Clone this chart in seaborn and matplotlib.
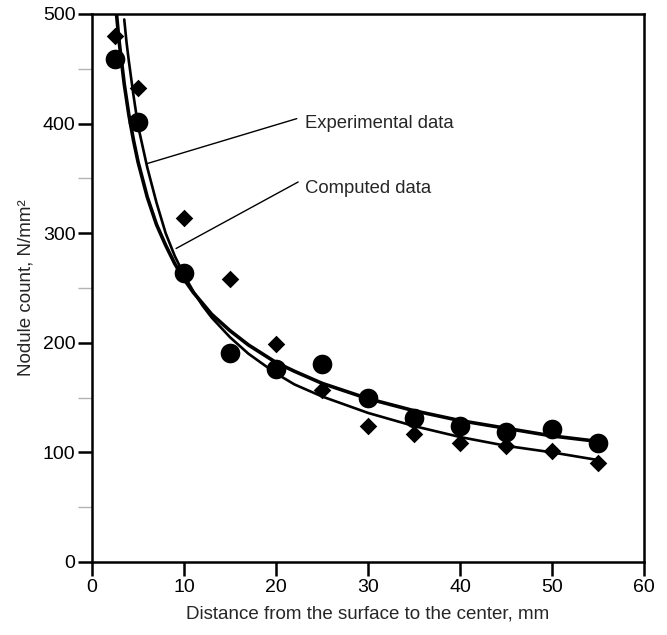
import numpy as np
import pandas as pd
import matplotlib
matplotlib.use("Agg")
import matplotlib.pyplot as plt
from matplotlib.ticker import MultipleLocator
import seaborn as sns

dist = [2.5, 5, 10, 15, 20, 25, 30, 35, 40, 45, 50, 55]
count_circle = [459, 401, 264, 191, 176, 181, 150, 131, 124, 119, 121, 109]
count_diamond = [480, 432, 314, 258, 199, 157, 124, 117, 109, 106, 101, 90]

# fitted curves
curve_circle_x = [2.66, 2.85, 3, 3.5, 4, 4.5, 5, 6, 7, 8, 9, 10, 11, 12, 13, 15, 17, 20, 22,
                  25, 30, 35, 40, 45, 50, 55]
curve_circle_y = [500, 483, 471, 436, 408, 385, 365, 333, 308, 289, 272, 258, 246, 236, 226,
                  211, 198, 182, 174, 163, 149, 138, 129, 122, 115, 110]
curve_diamond_x = [3.5, 3.75, 4, 4.5, 5, 6, 7, 8, 9, 10, 11, 12, 13, 15, 17, 20, 22, 25, 30,
                   35, 40, 45, 50, 55]
curve_diamond_y = [495, 474, 457, 426, 398, 360, 328, 300, 279, 262, 247, 234, 223, 205, 190,
                   172, 162, 151, 136, 124, 114, 106, 100, 93]

x_ticks = [0, 10, 20, 30, 40, 50, 60]
y_ticks = [0, 100, 200, 300, 400, 500]


def main():
    sns.set_style("ticks")
    plt.rcParams["font.family"] = ["Liberation Sans", "DejaVu Sans"]

    fig = plt.figure(figsize=(6.67, 6.35), dpi=100)
    ax = fig.add_axes([0.138, 0.115, 0.8276, 0.863])

    curves = pd.concat([
        pd.DataFrame({"x": curve_circle_x, "y": curve_circle_y, "fit": "circle"}),
        pd.DataFrame({"x": curve_diamond_x, "y": curve_diamond_y, "fit": "diamond"}),
    ])
    sns.lineplot(data=curves[curves["fit"] == "circle"], x="x", y="y", color="black",
                 lw=2.6, ax=ax, sort=False, estimator=None)
    sns.lineplot(data=curves[curves["fit"] == "diamond"], x="x", y="y", color="black",
                 lw=1.9, ax=ax, sort=False, estimator=None)

    pts = pd.DataFrame({"dist": dist, "circle": count_circle, "diamond": count_diamond})
    sns.scatterplot(data=pts, x="dist", y="circle", marker="o", s=200, color="black",
                    edgecolor="black", linewidth=0, ax=ax, zorder=3)
    sns.scatterplot(data=pts, x="dist", y="diamond", marker="D", s=80, color="black",
                    edgecolor="black", linewidth=0, ax=ax, zorder=3)

    # leader lines for the labels
    ax.plot([22.25, 5.95], [404.5, 363.4], color="black", lw=1.0)
    ax.plot([22.4, 9.13], [346.7, 286.0], color="black", lw=1.0)
    ax.text(23.2, 400, "Experimental data", fontsize=13.3, va="center", ha="left")
    ax.text(23.2, 341, "Computed data", fontsize=13.3, va="center", ha="left")

    ax.set_xlim(0, 60)
    ax.set_ylim(0, 500)
    ax.set_xticks(x_ticks)
    ax.set_yticks(y_ticks)
    ax.yaxis.set_minor_locator(MultipleLocator(50))
    ax.tick_params(axis="both", which="major", length=10, width=1.8, labelsize=14,
                   direction="out", color="black", labelcolor="black", pad=2)
    ax.tick_params(axis="y", which="minor", length=10, width=1.0, color="0.7")
    for side in ["left", "right", "top", "bottom"]:
        ax.spines[side].set_visible(True)
        ax.spines[side].set_linewidth(1.8)
        ax.spines[side].set_color("black")

    ax.set_xlabel("Distance from the surface to the center, mm", fontsize=13.5, labelpad=7)
    ax.set_ylabel("Nodule count, N/mm²", fontsize=13.5, labelpad=6)

    fig.savefig("out.png", dpi=100)


if __name__ == '__main__':
    main()
